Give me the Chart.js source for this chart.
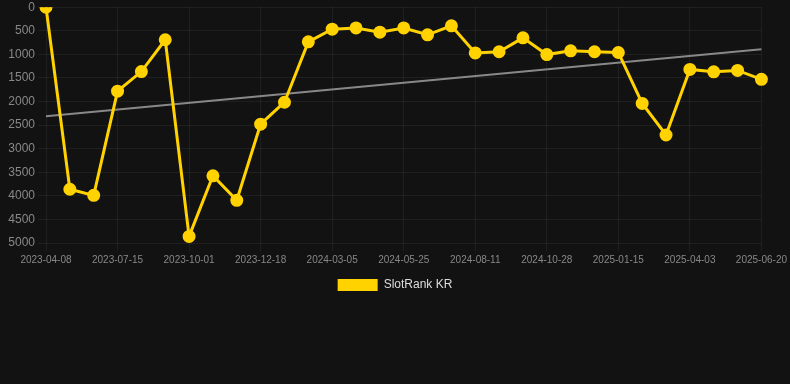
<!DOCTYPE html>
<html>
<head>
<meta charset="utf-8">
<script src="https://cdn.jsdelivr.net/npm/chart.js@4/dist/chart.umd.min.js"></script>
<style>
  html, body { margin: 0; padding: 0; background: #121212; overflow: hidden; }
  #wrap { width: 790px; height: 304px; margin-top: -3px; }
</style>
</head>
<body>
<div id="wrap"><canvas id="rankChart"></canvas></div>
<script>
const dates = [
    '2023-04-08', '2023-05-11', '2023-06-13', '2023-07-15', '2023-08-10', '2023-09-05',
    '2023-10-01', '2023-10-27', '2023-11-22', '2023-12-18', '2024-01-13', '2024-02-08',
    '2024-03-05', '2024-04-01', '2024-04-28', '2024-05-25', '2024-06-20', '2024-07-16',
    '2024-08-11', '2024-09-06', '2024-10-02', '2024-10-28', '2024-11-23', '2024-12-20',
    '2025-01-15', '2025-02-10', '2025-03-08', '2025-04-03', '2025-04-29', '2025-05-25',
    '2025-06-20'
];

const rankKR = [
    0, 3860, 3990, 1780, 1365, 690, 4860, 3575, 4095, 2480, 2015, 735,
    465, 440, 530, 440, 585, 395, 970, 945, 650, 1005, 925, 945,
    960, 2040, 2710, 1320, 1370, 1340, 1530
];

// trend line: only the two end values, the line is drawn between them
const trendEnds = [2310, 890];
const trend = dates.map((d, i) => i === 0 ? trendEnds[0] : (i === dates.length - 1 ? trendEnds[1] : null));

const gridColor = 'rgba(255, 255, 255, 0.06)';
const fontFamily = 'Arial, "Liberation Sans", sans-serif';

const ctx = document.getElementById('rankChart').getContext('2d');

const config = {
    type: 'line',
    data: {
        labels: dates,
        datasets: [
            {
                label: 'SlotRank KR',
                data: rankKR,
                borderColor: '#FFD200',
                backgroundColor: '#FFD200',
                borderWidth: 3,
                pointRadius: 5,
                pointHoverRadius: 6,
                fill: false,
                tension: 0
            },
            {
                label: 'Trend',
                data: trend,
                borderColor: '#888888',
                borderWidth: 2,
                pointRadius: 0,
                spanGaps: true,
                fill: false
            }
        ]
    },
    options: {
        responsive: true,
        maintainAspectRatio: false,
        animation: false,
        plugins: {
            legend: {
                display: true,
                position: 'bottom',
                labels: {
                    color: '#dddddd',
                    boxWidth: 40,
                    boxHeight: 12,
                    font: { family: fontFamily, size: 12 },
                    filter: item => item.text !== 'Trend',
                    generateLabels: chart => {
                        const items = Chart.defaults.plugins.legend.labels.generateLabels(chart);
                        items.forEach(it => { it.lineWidth = 0; });
                        return items;
                    }
                }
            },
            tooltip: { enabled: false }
        },
        scales: {
            x: {
                grid: { color: gridColor },
                border: { display: false },
                ticks: {
                    color: '#888888',
                    maxRotation: 0,
                    autoSkip: true,
                    maxTicksLimit: 11,
                    font: { family: fontFamily, size: 10 }
                }
            },
            y: {
                reverse: true,
                min: 0,
                max: 5000,
                grid: { color: gridColor },
                border: { display: false },
                afterFit: scale => { scale.width = 46; },
                ticks: {
                    stepSize: 500,
                    color: '#888888',
                    font: { family: fontFamily, size: 12 },
                    callback: v => String(v)
                }
            }
        }
    }
};

const rankChart = new Chart(ctx, config);
</script>
</body>
</html>
